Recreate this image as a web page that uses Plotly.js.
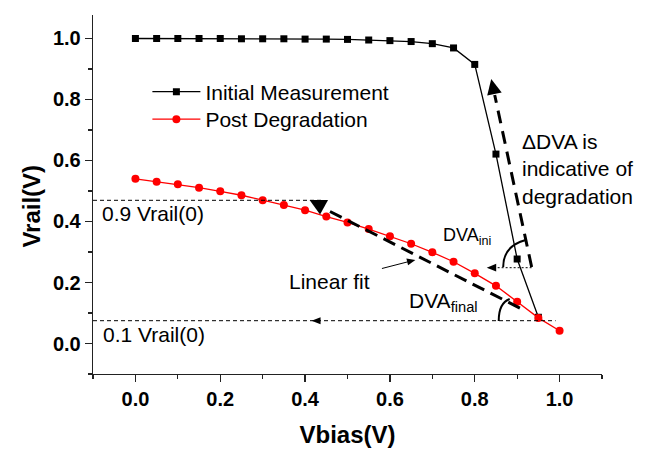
<!DOCTYPE html>
<html><head><meta charset="utf-8">
<script src="https://cdn.plot.ly/plotly-3.0.1.min.js"></script>
<style>html,body{margin:0;padding:0;background:#fff}#chart{width:650px;height:452px}</style>
</head><body><div id="chart"></div>
<script>
// ---- data ----
const vbiasInitial = [0.00,0.05,0.10,0.15,0.20,0.25,0.30,0.35,0.40,0.45,0.50,0.55,0.60,0.65,0.70,0.75,0.80,0.85,0.90,0.95];
const vrailInitial = [1.000,1.000,1.000,1.000,1.000,0.999,0.999,0.999,0.998,0.998,0.997,0.995,0.993,0.990,0.983,0.969,0.915,0.621,0.277,0.086];
const vbiasPost = [0.00,0.05,0.10,0.15,0.20,0.25,0.30,0.35,0.40,0.45,0.50,0.55,0.60,0.65,0.70,0.75,0.80,0.85,0.90,0.95,1.00];
const vrailPost = [0.540,0.530,0.522,0.511,0.499,0.486,0.470,0.454,0.437,0.416,0.397,0.375,0.352,0.327,0.299,0.268,0.230,0.189,0.137,0.084,0.042];
const seriesNames = ['Initial Measurement','Post Degradation'];

// ---- layout geometry ----
const W=650,H=452, M={l:92.5,r:47.5,t:15,b:78};
const XR=[-0.1,1.1], YR=[-0.1,1.077];
const pw=W-M.l-M.r, ph=H-M.t-M.b;
const X=px=>XR[0]+(px-M.l)/pw*(XR[1]-XR[0]);
const Y=py=>YR[0]+(H-M.b-py)/ph*(YR[1]-YR[0]);
const P=(pts)=>pts.map((p,i)=>(i?'L':'M')+X(p[0])+','+Y(p[1])).join(' ')+' Z';

const FONT='Liberation Sans, Arial, sans-serif';
const tickStyle={ticks:'outside',ticklen:7,tickwidth:1.3,tickcolor:'#222',showline:true,linecolor:'#222',linewidth:1.3,
  showgrid:false,zeroline:false,tickformat:'.1f',
  tickfont:{family:FONT,size:20,weight:'bold',color:'#000'},
  minor:{ticks:'outside',ticklen:4,tickwidth:1.3,tickcolor:'#222',showgrid:false}};

const traces=[
  {x:vbiasInitial,y:vrailInitial,name:seriesNames[0],mode:'lines+markers',legend:'legend',
   line:{color:'#000',width:1.3},marker:{symbol:'square',size:7,color:'#000'}},
  {x:vbiasPost,y:vrailPost,name:seriesNames[1],mode:'lines+markers',legend:'legend2',
   line:{color:'#ff0000',width:1.3},marker:{symbol:'circle',size:8,color:'#ff0000'}}
];

const y09=Y(200.3), y01=Y(320.7);
const shapes=[
  // 0.9 Vrail(0) reference
  {type:'line',x0:XR[0],x1:X(323),y0:y09,y1:y09,line:{color:'#000',width:1,dash:'4px,3px'}},
  // linear fit start triangle
  {type:'path',path:P([[309.5,200],[328,200],[320,214.5]]),fillcolor:'#000',line:{width:0}},
  // linear fit dashed line
  {type:'line',x0:X(330),y0:Y(211.5),x1:X(522),y1:Y(309),line:{color:'#000',width:3,dash:'13px,7px'}},
  // 0.1 Vrail(0) reference
  {type:'line',x0:XR[0],x1:X(556),y0:y01,y1:y01,line:{color:'#000',width:1,dash:'4px,3px'}},
  {type:'path',path:P([[311.5,320.7],[320.5,317.2],[320.5,324.2]]),fillcolor:'#000',line:{width:0}},
  // linear fit pointer
  {type:'line',x0:X(382),y0:Y(268.5),x1:X(408),y1:Y(261.8),line:{color:'#000',width:1}},
  {type:'path',path:P([[415.5,260],[406.5,258.6],[408.2,265.2]]),fillcolor:'#000',line:{width:0}},
  // DVA final arc
  {type:'path',path:'M'+X(499)+','+Y(321)+' Q'+X(499)+','+Y(303)+' '+X(510)+','+Y(299),line:{color:'#000',width:2}},
  // DVA ini arc
  {type:'path',path:'M'+X(503.5)+','+Y(267)+' Q'+X(503.5)+','+Y(246)+' '+X(526)+','+Y(240),line:{color:'#000',width:2}},
  // dotted arrow to DVA ini
  {type:'line',x0:X(532),x1:X(495),y0:Y(267.7),y1:Y(267.7),line:{color:'#000',width:1,dash:'2px,2px'}},
  {type:'path',path:P([[487,267.7],[496.5,263.8],[496.5,271.6]]),fillcolor:'#000',line:{width:0}},
  // delta DVA dashed arrow
  {type:'line',x0:X(532),y0:Y(267),x1:X(495),y1:Y(95),line:{color:'#000',width:3,dash:'13px,8px'}},
  {type:'path',path:P([[491.5,79],[502,92.5],[487.5,95.5]]),fillcolor:'#000',line:{width:0}}
];

const tf={family:FONT,size:21,color:'#000'};
const annotations=[
  {x:X(100),y:Y(213.5),text:'0.9 Vrail(0)',xanchor:'left',yanchor:'middle',showarrow:false,font:tf},
  {x:X(101),y:Y(334.5),text:'0.1 Vrail(0)',xanchor:'left',yanchor:'middle',showarrow:false,font:tf},
  {x:X(329),y:Y(281.5),text:'Linear fit',xanchor:'center',yanchor:'middle',showarrow:false,font:tf},
  {x:X(407),y:Y(302),text:'DVA<sub>final</sub>',xanchor:'left',yanchor:'middle',showarrow:false,font:tf},
  {x:X(441),y:Y(236),text:'DVA<sub>ini</sub>',xanchor:'left',yanchor:'middle',showarrow:false,font:{family:FONT,size:18,color:'#000'}},
  {x:X(520),y:Y(169),text:'\u0394DVA is<br>indicative of<br>degradation',xanchor:'left',yanchor:'middle',align:'left',showarrow:false,font:tf},
  {xref:'paper',yref:'paper',x:(30-M.l)/pw,y:(H-M.b-206)/ph,text:'Vrail(V)',textangle:-90,showarrow:false,
   xanchor:'center',yanchor:'middle',font:{family:FONT,size:24,weight:'bold',color:'#000'}}
];

const legendStyle=(cy)=>({x:(147-M.l)/pw,y:(H-M.b-cy)/ph,xanchor:'left',yanchor:'middle',bgcolor:'rgba(0,0,0,0)',
    font:{family:FONT,size:21,color:'#000'},itemwidth:48});
const layout={
  width:W,height:H,margin:M,paper_bgcolor:'#fff',plot_bgcolor:'#fff',
  font:{family:FONT,color:'#000'},
  xaxis:Object.assign({},tickStyle,{range:XR,tick0:0,dtick:0.2,minor:Object.assign({},tickStyle.minor,{tick0:0,dtick:0.1}),
    title:{text:'Vbias(V)',font:{family:FONT,size:24,weight:'bold',color:'#000'},standoff:17}}),
  yaxis:Object.assign({},tickStyle,{range:YR,tick0:0,dtick:0.2,minor:Object.assign({},tickStyle.minor,{tick0:0,dtick:0.1})}),
  showlegend:true,
  legend:legendStyle(92),
  legend2:legendStyle(119.5),
  shapes:shapes,annotations:annotations
};
Plotly.newPlot('chart',traces,layout,{staticPlot:true,displayModeBar:false});
</script></body></html>
